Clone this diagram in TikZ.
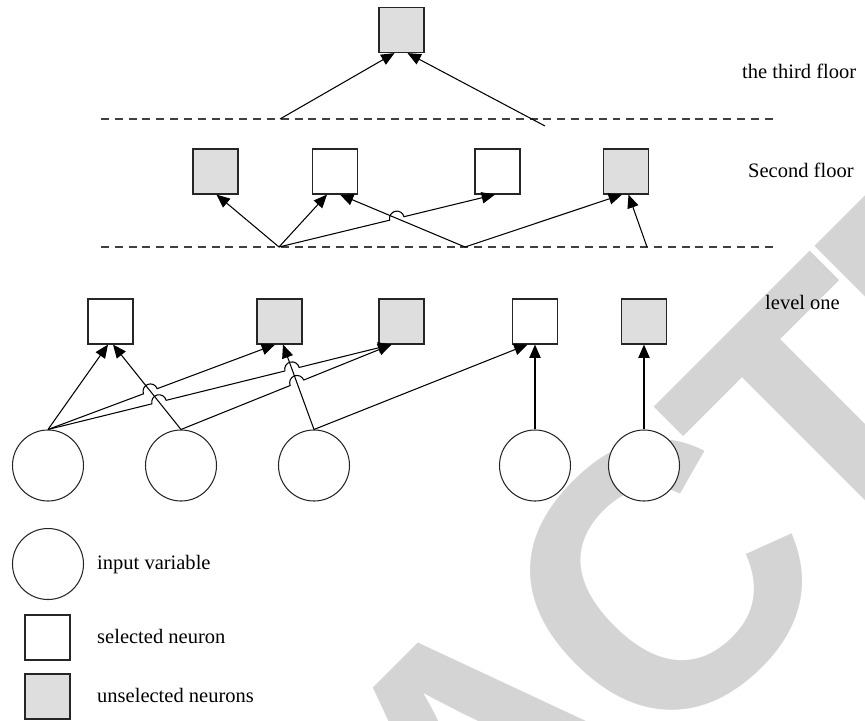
\documentclass[tikz,border=0pt]{standalone}
\usepackage{fontspec}
\setmainfont{Liberation Serif}
\newfontfamily\stampfont[LetterSpace=-6]{Liberation Sans}
\usetikzlibrary{shapes.geometric, arrows.meta, calc}
\newcommand\nodesize{1.35cm}
\newcommand\inputsize{2.13cm}
\newcommand\hopr{0.22cm}
% line that jumps over another one at (#1), running from (#2) to (#3)
\newcommand\hop[3]{let \p1=($(#3)-(#2)$), \n1={atan2(\y1,\x1)} in -- ($(#1)!\hopr!(#2)$) arc[start angle=\n1+180, delta angle=-180, radius=\hopr]}
\tikzstyle{selected} = [rectangle, minimum size=\nodesize, inner sep=0pt, draw=black!85, line width=1pt, fill=white]
\tikzstyle{unselected} = [selected, fill=black!13]
\tikzstyle{inputvar} = [circle, minimum size=\inputsize, inner sep=0pt, draw=black!85, line width=0.9pt, fill=white]
\tikzstyle{floorline} = [dash pattern=on 6.8pt off 5pt, line width=0.9pt, draw=black!75]
\tikzstyle{floortext} = [anchor=base west, inner sep=0pt, font=\fontsize{17.5}{21}\selectfont]
\tikzstyle{arrow} = [line width=0.9pt, -{Triangle[length=4mm, width=3.4mm]}]

\begin{document}
\begin{tikzpicture}[x=0.03cm, y=-0.03cm]
            \useasboundingbox (0,0) rectangle (865,720);

            % stamp behind everything
            \begin{scope}
                \clip (0,0) rectangle (865,720);
                \node (stamp) [rotate=45, text=black!17, inner sep=0pt, font=\stampfont\bfseries\fontsize{320}{320}\selectfont] at (487,756) {RETRACTED};
            \end{scope}

            \coordinate (f3l) at (101,119);
            \coordinate (f3r) at (775,119);
            \coordinate (f2l) at (101,247);
            \coordinate (f2r) at (775,247);
            \draw [floorline] (f3l) -- (f3r);
            \draw [floorline] (f2l) -- (f2r);

            \node (three) [unselected] at (401.5,30) {};
            \node (two1) [unselected] at (215.5,171.5) {};
            \node (two2) [selected] at (335,171.5) {};
            \node (two3) [selected] at (497.5,171.5) {};
            \node (two4) [unselected] at (626,171.5) {};
            \node (one1) [selected] at (110.5,321.5) {};
            \node (one2) [unselected] at (279.5,321.5) {};
            \node (one3) [unselected] at (401.5,321.5) {};
            \node (one4) [selected] at (535,321.5) {};
            \node (one5) [unselected] at (644,321.5) {};
            \node (in1) [inputvar] at (48,465.5) {};
            \node (in2) [inputvar] at (181,465.5) {};
            \node (in3) [inputvar] at (314,465.5) {};
            \node (in4) [inputvar] at (535,465.5) {};
            \node (in5) [inputvar] at (644,465.5) {};

            \node (t3) [floortext] at (742,78) {the third floor};
            \node (t2) [floortext] at (748,177) {Second floor};
            \node (t1) [floortext] at (765,309) {level one};

            \node (keyin) [inputvar] at (48,564) {};
            \node (keysel) [selected] at (47.5,637.5) {};
            \node (keyuns) [unselected] at (47.5,696.5) {};
            \node (keyint) [floortext] at (97,569.5) {input variable};
            \node (keyselt) [floortext] at (97,643) {selected neuron};
            \node (keyunst) [floortext] at (97,702) {unselected neurons};

            \coordinate (q1) at (280,119);
            \coordinate (q2) at (545,126);
            \coordinate (p1) at (279,247);
            \coordinate (p2) at (465,247);
            \coordinate (p3) at (647,247);

            \coordinate (threeL) at ($(three.south)+(-7,0)$);
            \coordinate (threeR) at ($(three.south)+(6,0)$);
            \coordinate (two1a) at ($(two1.south)+(1,0)$);
            \coordinate (two2a) at ($(two2.south)+(-8,0)$);
            \coordinate (two2b) at ($(two2.south)+(5,0)$);
            \coordinate (two3a) at ($(two3.south)+(-2.5,0)$);
            \coordinate (two4a) at ($(two4.south)+(-4,0)$);
            \coordinate (two4b) at ($(two4.south)+(2.5,0)$);
            \coordinate (one1a) at ($(one1.south)+(-2.5,0)$);
            \coordinate (one1b) at ($(one1.south)+(2.5,0)$);
            \coordinate (one2a) at ($(one2.south)+(-4.5,0)$);
            \coordinate (one2b) at ($(one2.south)+(3.5,0)$);
            \coordinate (one3a) at ($(one3.south)+(-10,0)$);
            \coordinate (one4a) at ($(one4.south)+(-7.5,0)$);

            \coordinate (h1) at (intersection of in1.north--one2a and in2.north--one1b);
            \coordinate (h2) at (intersection of in1.north--one3a and in2.north--one1b);
            \coordinate (h3) at (intersection of in1.north--one3a and in3.north--one2b);
            \coordinate (h4) at (intersection of in2.north--one3a and in3.north--one2b);
            \coordinate (h5) at (intersection of p1--two3a and p2--two2b);

            \draw [arrow] (q1) -- (threeL);
            \draw [arrow] (q2) -- (threeR);
            \draw [arrow] (p1) -- (two1a);
            \draw [arrow] (p1) -- (two2a);
            \draw [arrow] (p2) -- (two2b);
            \draw [arrow] (p1) \hop{h5}{p1}{two3a} -- (two3a);
            \draw [arrow] (p2) -- (two4a);
            \draw [arrow] (p3) -- (two4b);
            \draw [arrow] (in1.north) -- (one1a);
            \draw [arrow] (in2.north) -- (one1b);
            \draw [arrow] (in1.north) \hop{h1}{in1.north}{one2a} -- (one2a);
            \draw [arrow] (in3.north) -- (one2b);
            \draw [arrow] (in1.north) \hop{h2}{in1.north}{one3a} \hop{h3}{in1.north}{one3a} -- (one3a);
            \draw [arrow] (in2.north) \hop{h4}{in2.north}{one3a} -- (one3a);
            \draw [arrow] (in3.north) -- (one4a);
            \draw [arrow] (in4) -- (one4);
            \draw [arrow] (in5) -- (one5);

        \end{tikzpicture}
\end{document}
